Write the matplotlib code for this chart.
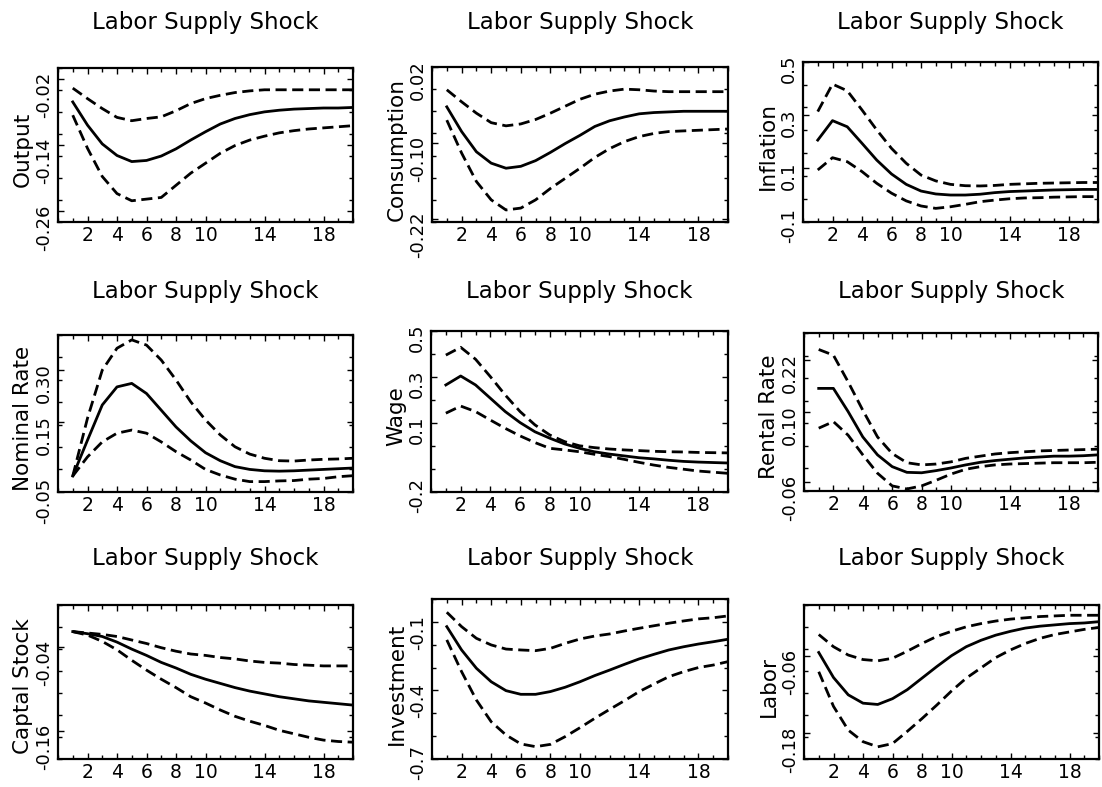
import numpy as np
import matplotlib
matplotlib.use("Agg")
import matplotlib.pyplot as plt
from matplotlib.ticker import MultipleLocator, LinearLocator
from matplotlib.transforms import ScaledTranslation

# respuestas a un shock de oferta de trabajo, 20 periodos
periodos = np.arange(1, 21)
titulo = "Labor Supply Shock"

output_mid = [-0.062, -0.104, -0.138, -0.159, -0.170, -0.168, -0.160, -0.147, -0.131, -0.116,
              -0.102, -0.092, -0.085, -0.080, -0.077, -0.075, -0.074, -0.073, -0.073, -0.072]
output_hi = [-0.037, -0.056, -0.074, -0.090, -0.096, -0.092, -0.089, -0.078, -0.065, -0.056,
             -0.050, -0.045, -0.042, -0.040, -0.040, -0.040, -0.040, -0.040, -0.040, -0.040]
output_lo = [-0.086, -0.146, -0.197, -0.228, -0.241, -0.238, -0.235, -0.213, -0.191, -0.173,
             -0.155, -0.141, -0.131, -0.124, -0.118, -0.114, -0.111, -0.109, -0.107, -0.105]

cons_mid = [-0.043, -0.082, -0.114, -0.132, -0.140, -0.137, -0.128, -0.115, -0.101, -0.088,
            -0.074, -0.065, -0.059, -0.054, -0.052, -0.051, -0.050, -0.050, -0.050, -0.050]
cons_hi = [-0.016, -0.035, -0.053, -0.068, -0.073, -0.070, -0.063, -0.053, -0.042, -0.031,
           -0.023, -0.018, -0.015, -0.016, -0.018, -0.019, -0.019, -0.019, -0.019, -0.019]
cons_lo = [-0.064, -0.116, -0.161, -0.190, -0.206, -0.203, -0.190, -0.172, -0.156, -0.140,
           -0.123, -0.109, -0.098, -0.090, -0.085, -0.082, -0.081, -0.080, -0.079, -0.078]

infl_mid = [0.206, 0.279, 0.256, 0.194, 0.131, 0.079, 0.040, 0.015, 0.004, 0.000,
            0.000, 0.003, 0.009, 0.013, 0.015, 0.017, 0.019, 0.020, 0.021, 0.021]
infl_hi = [0.313, 0.416, 0.391, 0.319, 0.244, 0.175, 0.119, 0.075, 0.053, 0.040,
           0.035, 0.034, 0.036, 0.040, 0.042, 0.044, 0.045, 0.046, 0.047, 0.047]
infl_lo = [0.094, 0.140, 0.125, 0.088, 0.044, 0.007, -0.022, -0.041, -0.050, -0.044,
           -0.035, -0.025, -0.019, -0.014, -0.011, -0.010, -0.008, -0.007, -0.006, -0.006]

nom_mid = [-0.005, 0.098, 0.199, 0.251, 0.261, 0.232, 0.184, 0.136, 0.096, 0.062,
           0.039, 0.022, 0.014, 0.010, 0.009, 0.010, 0.012, 0.014, 0.016, 0.018]
nom_hi = [-0.005, 0.161, 0.299, 0.362, 0.386, 0.371, 0.328, 0.271, 0.208, 0.156,
          0.113, 0.079, 0.058, 0.046, 0.039, 0.038, 0.041, 0.043, 0.044, 0.046]
nom_lo = [-0.005, 0.050, 0.093, 0.118, 0.127, 0.118, 0.093, 0.065, 0.041, 0.014,
          -0.002, -0.014, -0.021, -0.021, -0.019, -0.018, -0.014, -0.012, -0.007, -0.004]

wage_mid = [0.265, 0.304, 0.265, 0.207, 0.149, 0.101, 0.061, 0.033, 0.008, -0.011,
            -0.026, -0.036, -0.044, -0.052, -0.057, -0.063, -0.068, -0.071, -0.073, -0.075]
wage_hi = [0.395, 0.429, 0.377, 0.301, 0.221, 0.149, 0.091, 0.047, 0.018, 0.000,
           -0.008, -0.014, -0.018, -0.021, -0.024, -0.026, -0.027, -0.029, -0.030, -0.031]
wage_lo = [0.142, 0.173, 0.149, 0.112, 0.076, 0.043, 0.014, -0.011, -0.018, -0.026,
           -0.037, -0.047, -0.059, -0.072, -0.084, -0.094, -0.102, -0.110, -0.115, -0.120]

rent_mid = [0.154, 0.154, 0.101, 0.043, 0.002, -0.025, -0.038, -0.039, -0.034, -0.028,
            -0.021, -0.015, -0.011, -0.008, -0.005, -0.003, -0.001, -0.001, 0.000, 0.002]
rent_hi = [0.243, 0.230, 0.169, 0.104, 0.043, 0.005, -0.016, -0.021, -0.019, -0.014,
           -0.006, -0.001, 0.004, 0.007, 0.009, 0.011, 0.012, 0.013, 0.014, 0.015]
rent_lo = [0.063, 0.078, 0.047, 0.002, -0.040, -0.069, -0.076, -0.069, -0.056, -0.042,
           -0.031, -0.025, -0.021, -0.019, -0.018, -0.017, -0.016, -0.016, -0.016, -0.015]

cap_mid = [-0.018, -0.021, -0.025, -0.033, -0.043, -0.052, -0.062, -0.070, -0.079, -0.086,
           -0.092, -0.098, -0.103, -0.107, -0.111, -0.114, -0.117, -0.119, -0.121, -0.123]
cap_hi = [-0.018, -0.020, -0.022, -0.025, -0.030, -0.035, -0.041, -0.046, -0.050, -0.052,
          -0.055, -0.057, -0.060, -0.062, -0.063, -0.065, -0.066, -0.067, -0.067, -0.067]
cap_lo = [-0.018, -0.023, -0.032, -0.044, -0.059, -0.073, -0.086, -0.098, -0.111, -0.120,
          -0.130, -0.139, -0.146, -0.152, -0.159, -0.164, -0.169, -0.173, -0.175, -0.176]

inv_mid = [-0.121, -0.223, -0.303, -0.362, -0.401, -0.417, -0.417, -0.405, -0.386, -0.362,
           -0.335, -0.311, -0.286, -0.262, -0.242, -0.223, -0.209, -0.197, -0.187, -0.176]
inv_hi = [-0.058, -0.121, -0.172, -0.201, -0.219, -0.223, -0.226, -0.216, -0.194, -0.175,
          -0.162, -0.153, -0.140, -0.128, -0.117, -0.106, -0.096, -0.087, -0.082, -0.074]
inv_lo = [-0.179, -0.318, -0.442, -0.537, -0.595, -0.634, -0.646, -0.636, -0.602, -0.563,
          -0.522, -0.483, -0.445, -0.405, -0.372, -0.340, -0.318, -0.300, -0.289, -0.274]

lab_mid = [-0.054, -0.093, -0.120, -0.133, -0.135, -0.126, -0.112, -0.094, -0.076, -0.059,
           -0.045, -0.035, -0.027, -0.021, -0.016, -0.013, -0.011, -0.009, -0.008, -0.006]
lab_hi = [-0.026, -0.045, -0.058, -0.065, -0.067, -0.063, -0.052, -0.040, -0.029, -0.021,
          -0.014, -0.009, -0.005, -0.002, 0.000, 0.002, 0.003, 0.004, 0.004, 0.004]
lab_lo = [-0.084, -0.138, -0.175, -0.193, -0.201, -0.196, -0.177, -0.157, -0.136, -0.114,
          -0.094, -0.078, -0.062, -0.050, -0.040, -0.032, -0.026, -0.022, -0.018, -0.015]

paneles = [
    ("Output", output_mid, output_hi, output_lo),
    ("Consumption", cons_mid, cons_hi, cons_lo),
    ("Inflation", infl_mid, infl_hi, infl_lo),
    ("Nominal Rate", nom_mid, nom_hi, nom_lo),
    ("Wage", wage_mid, wage_hi, wage_lo),
    ("Rental Rate", rent_mid, rent_hi, rent_lo),
    ("Captal Stock", cap_mid, cap_hi, cap_lo),
    ("Investment", inv_mid, inv_hi, inv_lo),
    ("Labor", lab_mid, lab_hi, lab_lo),
]

yticks = [[-0.26, -0.14, -0.02], [-0.22, -0.10, 0.02], [-0.1, 0.1, 0.3, 0.5],
          [-0.05, 0.15, 0.30], [-0.2, 0.1, 0.3, 0.5], [-0.06, 0.10, 0.22],
          [-0.16, -0.04], [-0.7, -0.4, -0.1], [-0.18, -0.06]]
decimales = [2, 2, 1, 2, 1, 2, 2, 1, 2]
xticks = [2, 4, 6, 8, 10, 14, 18]

# rangos de cada eje y
ylims = [(-0.28, 0.0), (-0.225, 0.02), (-0.1, 0.5), (-0.05, 0.40), (-0.2, 0.5),
         (-0.08, 0.28), (-0.20, 0.02), (-0.7, 0.0), (-0.22, 0.02)]

# caja de cada panel en pixeles: izq, der, arriba, abajo
W, H = 1102, 787
cajas = [(58, 353, 67.7, 222.3), (432, 728, 67, 222), (803, 1098, 61.7, 221.7),
         (58, 353, 335, 491.7), (431, 728, 331, 491.7), (804, 1098, 333.3, 490.7),
         (58, 353, 605, 759), (432, 728, 599, 759), (804, 1099, 605, 759)]
titulo_y = [22, 292, 559]

fig = plt.figure(figsize=(W / 100, H / 100), dpi=100)
subir = ScaledTranslation(0, 7 / 100, fig.dpi_scale_trans)

for i, (nombre, mid, hi, lo) in enumerate(paneles):
    l, r, t, b = cajas[i]
    ax = fig.add_axes([l / W, 1 - b / H, (r - l) / W, (b - t) / H])
    ax.plot(periodos, mid, color="black", lw=2)
    ax.plot(periodos, hi, color="black", lw=2, dashes=(4, 2))
    ax.plot(periodos, lo, color="black", lw=2, dashes=(4, 2))
    ax.set_xlim(0, 20)
    ax.set_ylim(*ylims[i])
    ax.set_xticks(xticks)
    ax.xaxis.set_minor_locator(MultipleLocator(1))
    ax.set_yticks(yticks[i])
    ax.set_yticklabels([f"{v:.{decimales[i]}f}" for v in yticks[i]])
    ax.yaxis.set_minor_locator(LinearLocator(8))
    ax.tick_params(which="both", direction="in", top=True, right=True, width=1)
    ax.tick_params(which="major", length=4)
    ax.tick_params(which="minor", length=3)
    ax.tick_params(axis="y", labelrotation=90, pad=3.5, labelsize=13)
    ax.tick_params(axis="x", pad=3, labelsize=13.5)
    for s in ax.spines.values():
        s.set_linewidth(1.6)
    # la etiqueta del minimo se corre un poco hacia arriba
    for lab, v in zip(ax.get_yticklabels(), yticks[i]):
        if abs(v - ylims[i][0]) < 1e-9:
            lab.set_transform(lab.get_transform() + subir)
    ax.set_ylabel(nombre, fontsize=15.5, va="center")
    ax.yaxis.set_label_coords(-0.118, 0.47)
    fig.text((l + r) / 2 / W, 1 - titulo_y[i // 3] / H, titulo,
             ha="center", va="center", fontsize=16.5)

fig.savefig("out.png", dpi=100)
